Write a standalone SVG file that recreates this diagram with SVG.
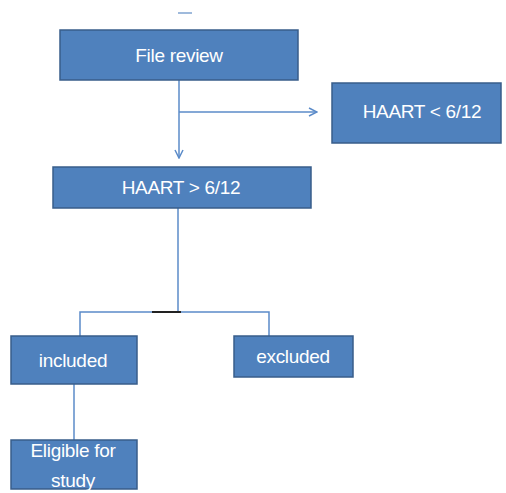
<svg xmlns="http://www.w3.org/2000/svg" width="506" height="493" viewBox="0 0 506 493">
<defs>
<style>
.box{fill:#4F81BD;stroke:#385D8A;stroke-width:1.5}
.lbl{fill:#fff;font-family:"Liberation Sans",Arial,sans-serif;font-size:19px;text-anchor:middle;letter-spacing:-0.3px}
.ln{stroke:#5B8BC9;stroke-width:1.5;fill:none}
</style>
<marker id="arr" viewBox="0 0 10 10" refX="9" refY="5" markerWidth="10" markerHeight="10" markerUnits="userSpaceOnUse" orient="auto">
<path d="M1,1 L9,5 L1,9" fill="none" stroke="#5B8BC9" stroke-width="1.5"/>
</marker>
</defs>
<rect width="506" height="493" fill="#fff"/>
<line x1="178" y1="13" x2="192" y2="13" stroke="#7FA3D0" stroke-width="1.5"/>
<g id="connectors">
<line class="ln" x1="179" y1="80" x2="179" y2="158" marker-end="url(#arr)"/>
<line class="ln" x1="179" y1="112" x2="317" y2="112" marker-end="url(#arr)"/>
<line class="ln" x1="178" y1="208" x2="178" y2="312"/>
<polyline class="ln" points="80,336 80,312 269,312 269,336"/>
<line x1="152" y1="312" x2="181" y2="312" stroke="#222" stroke-width="2"/>
<line class="ln" x1="74" y1="384" x2="74" y2="440"/>
</g>
<g id="file-review">
<rect class="box" x="60" y="30" width="238" height="50"/>
<text class="lbl" x="179" y="62">File review</text>
</g>
<g id="haart-lt">
<rect class="box" x="332" y="83" width="169" height="60"/>
<text class="lbl" x="422" y="118">HAART &lt; 6/12</text>
</g>
<g id="haart-gt">
<rect class="box" x="53" y="167" width="258" height="41"/>
<text class="lbl" x="181" y="194">HAART &gt; 6/12</text>
</g>
<g id="included">
<rect class="box" x="11" y="336" width="126" height="48"/>
<text class="lbl" x="73" y="367">included</text>
</g>
<g id="excluded">
<rect class="box" x="234" y="336" width="119" height="41"/>
<text class="lbl" x="293" y="363">excluded</text>
</g>
<g id="eligible">
<rect class="box" x="11" y="440" width="126" height="49"/>
<text class="lbl" x="73" y="457">Eligible for</text>
<text class="lbl" x="73" y="487">study</text>
</g>
</svg>
